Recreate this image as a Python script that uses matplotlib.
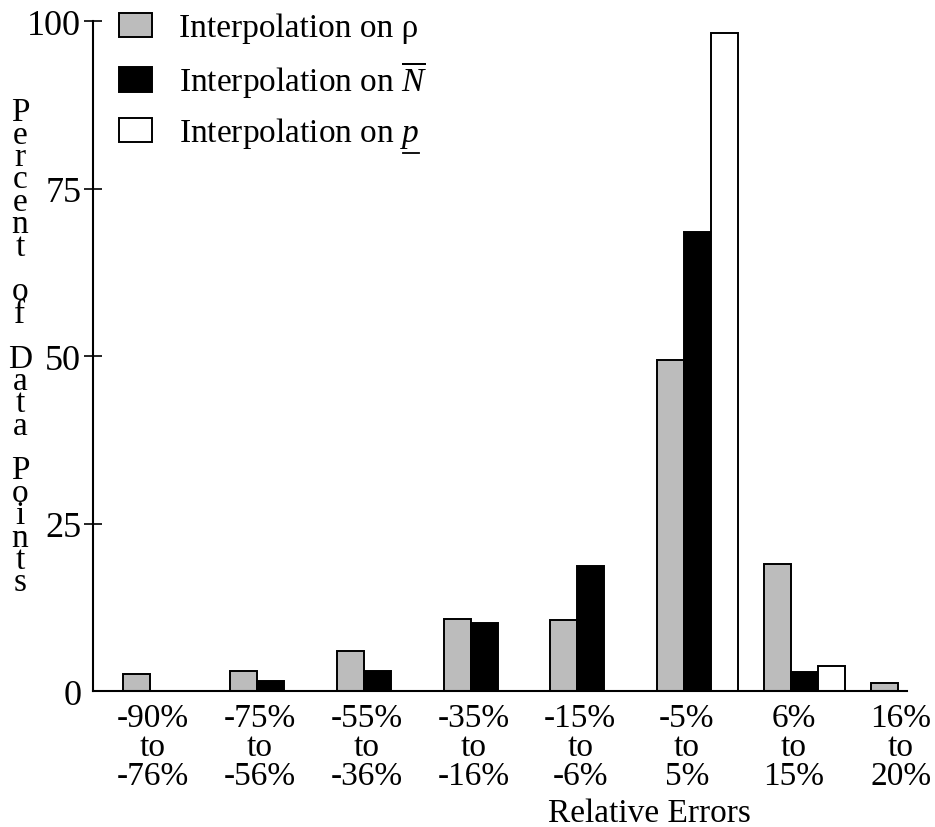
import numpy as np
import matplotlib.pyplot as plt
from matplotlib.patches import Patch

# === Data ===
bins = ["-90%\nto\n-76%", "-75%\nto\n-56%", "-55%\nto\n-36%", "-35%\nto\n-16%",
        "-15%\nto\n-6%", "-5%\nto\n5%", "6%\nto\n15%", "16%\nto\n20%"]
rho_pct = [2.5, 3.0, 6.0, 10.8, 10.6, 49.5, 19.0, 1.2]
nbar_pct = [0.0, 1.5, 3.0, 10.2, 18.7, 68.5, 2.8, 0.0]
p_pct = [0.0, 0.0, 0.0, 0.0, 0.0, 98.2, 3.7, 0.0]
yticks = [0, 25, 50, 75, 100]
ylabel_words = ["Percent", "of", "Data", "Points"]

# === Style ===
plt.rcParams["font.family"] = ["Liberation Serif", "DejaVu Serif"]
plt.rcParams["mathtext.fontset"] = "custom"
plt.rcParams["mathtext.rm"] = "Liberation Serif"
plt.rcParams["mathtext.it"] = "Liberation Serif:italic"
plt.rcParams["mathtext.bf"] = "Liberation Serif:bold"

FS = 24
GRAY = "#bcbcbc"
lw = 1.4

fig = plt.figure(figsize=(9.35, 8.28), dpi=100)
ax = fig.add_axes([0.0995, 0.164, 0.8705, 0.809])

x = np.arange(len(bins))
w = 0.253
ax.bar(x, rho_pct, w, align="edge", color=GRAY, edgecolor="black", linewidth=lw)
ax.bar(x + w, nbar_pct, w, align="edge", color="black", edgecolor="black", linewidth=lw)
ax.bar(x + 2 * w, p_pct, w, align="edge", color="white", edgecolor="black", linewidth=lw)

ax.set_xlim(-0.281, len(bins) - 1 + 0.337)
ax.set_ylim(0, 100)

for s in ["top", "right"]:
    ax.spines[s].set_visible(False)
for s in ["left", "bottom"]:
    ax.spines[s].set_linewidth(1.5)

ax.set_yticks(yticks)
ax.set_yticklabels([str(t) for t in yticks], fontsize=FS + 2)
ax.tick_params(axis="y", direction="inout", length=13, width=1.2, pad=2)
ax.yaxis.get_major_ticks()[0].tick1line.set_visible(False)  # no mark at 0

ax.set_xticks(x + 1.1 * w)
ax.set_xticklabels(bins, fontsize=FS, linespacing=0.95)
ax.tick_params(axis="x", length=0, pad=8)

ax.set_xlabel("Relative Errors", fontsize=FS)
ax.xaxis.set_label_coords(0.684, -0.158)

# stacked, upright y-axis title (blank line between words)
lines = []
for i, word in enumerate(ylabel_words):
    if i > 0:
        lines.append("")
    lines.extend(list(word))
fig.text(0.0214, 0.882, "\n".join(lines), fontsize=FS, ha="center", va="top",
         linespacing=0.655)

handles = [
    Patch(facecolor=GRAY, edgecolor="black", linewidth=lw),
    Patch(facecolor="black", edgecolor="black", linewidth=lw),
    Patch(facecolor="white", edgecolor="black", linewidth=lw),
]
labels = ["Interpolation on ρ", r"Interpolation on $\overline{N}$", r"Interpolation on $p$"]
leg = ax.legend(handles, labels, loc="upper left", bbox_to_anchor=(0.032, 1.013),
                frameon=False, fontsize=FS, handlelength=1.0, handleheight=0.75,
                handletextpad=0.8, labelspacing=0.46, borderaxespad=0, borderpad=0)

# underline the p in the third legend entry
fig.canvas.draw()
r = fig.canvas.get_renderer()
bb = leg.get_texts()[2].get_window_extent(r)
inv = fig.transFigure.inverted()
x1, y0 = inv.transform((bb.x1, bb.y0 - 3))
x0, _ = inv.transform((bb.x1 - 16, bb.y0 - 3))
fig.add_artist(plt.Line2D([x0, x1], [y0, y0], color="black", linewidth=1.3,
                          transform=fig.transFigure))

fig.savefig("out.png", dpi=100)
